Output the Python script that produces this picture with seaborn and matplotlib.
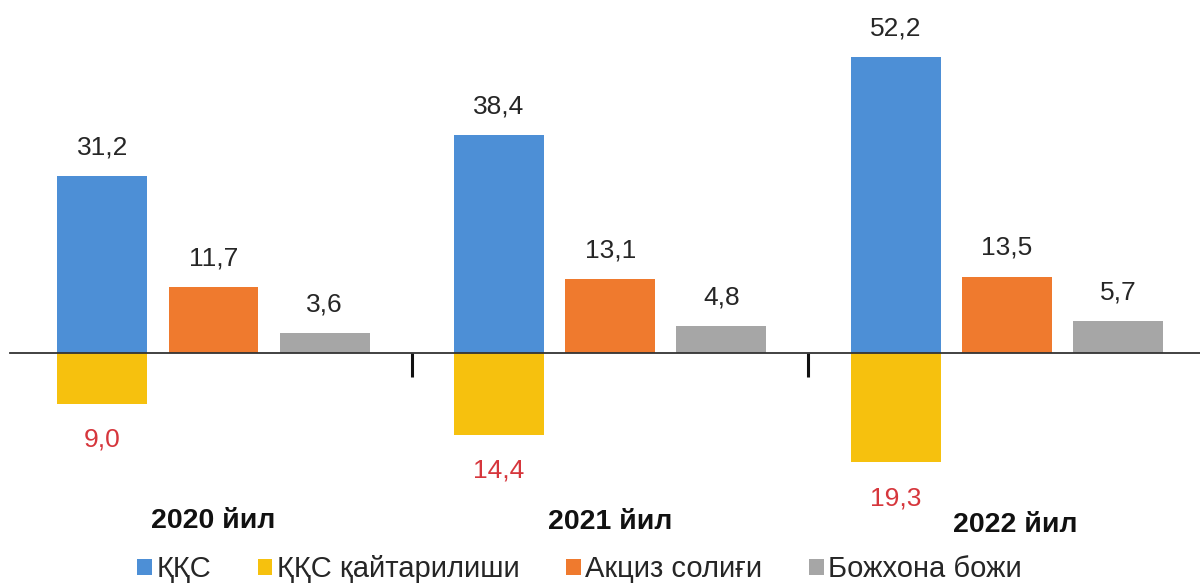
import matplotlib
matplotlib.use("Agg")
import matplotlib.pyplot as plt
from matplotlib.patches import Patch
import seaborn as sns
import pandas as pd

years = ["2020 йил", "2021 йил", "2022 йил"]
series = ["ҚҚС", "ҚҚС қайтарилиши", "Акциз солиғи", "Божхона божи"]
vat = [31.2, 38.4, 52.2]
vat_refund = [-9.0, -14.4, -19.3]
excise = [11.7, 13.1, 13.5]
customs = [3.6, 4.8, 5.7]
colors = {"ҚҚС": "#4d8fd6", "ҚҚС қайтарилиши": "#f6c10e",
          "Акциз солиғи": "#ef7a2e", "Божхона божи": "#a6a6a6"}

sns.set_theme(style="white")
plt.rcParams["font.family"] = ["Liberation Sans", "DejaVu Sans"]

# slot = dodge position within each year group
slot_order = ["a", "b", "c"]
pos = pd.DataFrame({
    "year": years * 3,
    "slot": ["a"] * 3 + ["b"] * 3 + ["c"] * 3,
    "value": vat + excise + customs,
})
neg = pd.DataFrame({
    "year": years * 3,
    "slot": ["a"] * 3 + ["b"] * 3 + ["c"] * 3,
    "value": vat_refund + [0.0] * 6,
})
pal_pos = {"a": colors["ҚҚС"], "b": colors["Акциз солиғи"], "c": colors["Божхона божи"]}
pal_neg = {"a": colors["ҚҚС қайтарилиши"], "b": "white", "c": "white"}

fig = plt.figure(figsize=(12, 5.86), dpi=100)
ax = fig.add_axes([10 / 1200, 0, 1190 / 1200, 1])

sns.barplot(data=pos, x="year", y="value", hue="slot", hue_order=slot_order,
            order=years, palette=pal_pos, width=0.84, gap=0.19,
            errorbar=None, legend=False, ax=ax, saturation=1, linewidth=0)
sns.barplot(data=neg, x="year", y="value", hue="slot", hue_order=slot_order,
            order=years, palette=pal_neg, width=0.84, gap=0.19,
            errorbar=None, legend=False, ax=ax, saturation=1, linewidth=0)

fmt = lambda v: f"{abs(v):.1f}".replace(".", ",")
for cont in ax.containers:
    vals = [r.get_height() for r in cont]
    labels = [fmt(v) if v != 0 else "" for v in vals]
    if any(v < 0 for v in vals):
        ax.bar_label(cont, labels=labels, padding=17, fontsize=19,
                     color="#d6363c")
    else:
        ax.bar_label(cont, labels=labels, padding=12, fontsize=19,
                     color="#262626")

ax.set_xlim(-0.513, 2.487)
ax.set_ylim(-41.1, 62.3)
for s in ["top", "right", "left"]:
    ax.spines[s].set_visible(False)
ax.spines["bottom"].set_position(("data", 0))
ax.spines["bottom"].set_color("#333333")
ax.spines["bottom"].set_linewidth(1.3)
ax.spines["bottom"].set_zorder(5)
ax.set_yticks([])
ax.set_xticks([])
ax.set_xticks([0.5, 1.5], minor=True)
ax.tick_params(axis="x", which="minor", direction="out", length=17,
               width=2.2, color="#111111", bottom=True, labelbottom=False)
ax.set_xlabel("")
ax.set_ylabel("")

dx = [0.0, 0.0, 0.02]
dy = [0.0, -0.2, -0.8]
for i, y in enumerate(years):
    ax.text(i + dx[i], -29.6 + dy[i], y, ha="center", va="center",
            fontsize=20.5, fontweight="bold", color="#111111")

handles = [Patch(facecolor=colors[s], edgecolor="none") for s in series]
fig.legend(handles, series, loc="lower center", ncol=4,
           bbox_to_anchor=(0.483, -0.04), frameon=False, fontsize=21,
           handlelength=0.5, handleheight=0.5, handletextpad=0.15,
           columnspacing=1.6)

fig.savefig("out.png", dpi=100)
